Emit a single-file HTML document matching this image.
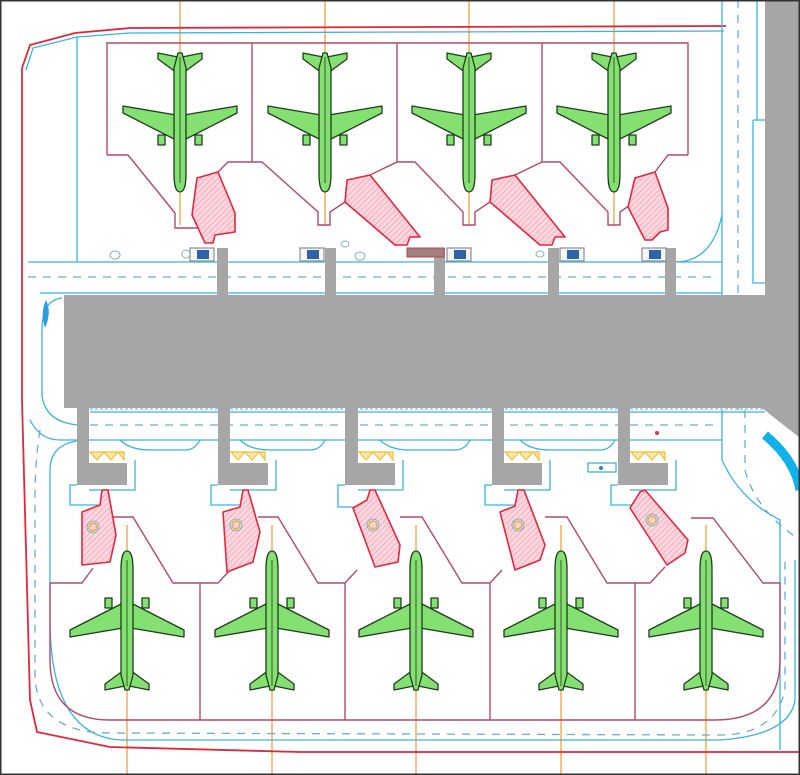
<!DOCTYPE html>
<html><head><meta charset="utf-8"><style>html,body{margin:0;padding:0;background:#fff}svg{display:block}</style></head>
<body>
<svg width="800" height="775" viewBox="0 0 800 775" xmlns="http://www.w3.org/2000/svg">
<defs>
<pattern id="h" width="4" height="4" patternUnits="userSpaceOnUse" patternTransform="rotate(45)">
<rect width="4" height="4" fill="#fbd6de"/><line x1="0" y1="0" x2="0" y2="4" stroke="#ee8fa0" stroke-width="1"/>
</pattern>
<g id="pl" stroke="#1d3d1d" stroke-width="1.3" fill="#84e070" stroke-linejoin="round">
<path d="M-4,-17 L-57,10 L-57,17 L-4,8 Z M4,-17 L57,10 L57,17 L4,8 Z"/>
<path d="M-3,50 L-22,64 L-22,70 L-2,66 Z M3,50 L22,64 L22,70 L2,66 Z"/>
<rect x="-22" y="-22" width="7" height="10"/><rect x="15" y="-22" width="7" height="10"/>
<path d="M0,-69 C5,-69 6,-60 6,-50 L6,55 L2,70 L-2,70 L-6,55 L-6,-50 C-6,-60 -5,-69 0,-69 Z"/>
<line x1="0" y1="-60" x2="0" y2="66" stroke-width="0.8"/>
</g>
<g id="veh"><rect x="0" y="0" width="24" height="13" fill="#f4f6f8" stroke="#8a8f96" stroke-width="1.2"/><rect x="7" y="2" width="12" height="9" fill="#2d63a8"/></g>
</defs>
<rect width="800" height="775" fill="#fff"/>

<!-- orange centrelines -->
<g stroke="#f0a040" stroke-width="1.3">
<line x1="180" y1="0" x2="180" y2="225"/><line x1="325" y1="0" x2="325" y2="225"/><line x1="469" y1="0" x2="469" y2="225"/><line x1="614" y1="0" x2="614" y2="225"/>
<line x1="127" y1="525" x2="127" y2="775"/><line x1="272" y1="525" x2="272" y2="775"/><line x1="416" y1="525" x2="416" y2="775"/><line x1="561" y1="525" x2="561" y2="775"/><line x1="706" y1="525" x2="706" y2="775"/>
</g>

<!-- outer red boundary -->
<g fill="none" stroke="#e0283c" stroke-width="1.8">
<path d="M726,26 L130,28 L75,33 L30,45 L22,68 L22,400 L30,700 L37,732 L110,747 L300,752 L800,752"/>
</g>
<!-- cyan -->
<g fill="none" stroke="#3bb4dc" stroke-width="1.3">
<path d="M26,70 L33,48 L77,37 L130,33 L724,31"/>
<line x1="77" y1="37" x2="77" y2="262"/>
<line x1="28" y1="262" x2="722" y2="262"/>
<line x1="40" y1="293" x2="722" y2="293"/>
<path d="M722,0 L722,295"/><path d="M757,0 L757,120"/>
<path d="M753,120 L765,120 M753,120 L753,283 L765,283"/>
<path d="M675,262 Q712,262 722,215"/>
<path d="M62,298 Q42,300 42,330 L42,395 Q45,422 78,425"/>
<line x1="90" y1="412" x2="765" y2="412"/>
<path d="M30,420 Q40,440 60,440 L722,440"/>
<path d="M722,410 L722,460 Q740,500 780,520 L780,750"/>
<path d="M90,440 Q50,440 50,470 L50,620 Q50,735 120,740 L720,740 Q790,735 795,700 L795,560"/>
<path d="M120,440 Q130,450 150,450 L185,450 Q195,450 200,440 M240,440 Q250,450 270,450 L310,450 Q320,450 325,440 M380,440 Q390,450 410,450 L455,450 Q465,450 470,440 M520,440 Q530,450 550,450 L600,450 Q610,450 615,440"/>
</g>
<g fill="none" stroke="#6aaed0" stroke-width="1.3" stroke-dasharray="8,7">
<line x1="28" y1="277" x2="715" y2="277"/>
<line x1="90" y1="425" x2="715" y2="425"/>
<path d="M738,0 L738,410"/>
<path d="M745,410 L745,470 Q755,510 800,540"/>
<path d="M40,430 Q35,460 35,500 L35,680 Q40,733 110,733 L720,735 Q775,735 785,690 L785,560"/>
</g>
<g stroke="#5aa8d8" stroke-width="1" stroke-dasharray="3,2"><line x1="90" y1="296" x2="765" y2="296"/><line x1="90" y1="409" x2="765" y2="409"/></g>

<!-- terminal -->
<g fill="#a6a6a6">
<rect x="64" y="295" width="701" height="113"/>
<polygon points="765,0 800,0 800,438 762,408 765,408"/>
<rect x="217" y="248" width="11" height="48"/><rect x="325" y="248" width="11" height="48"/><rect x="434" y="248" width="11" height="48"/><rect x="548" y="248" width="11" height="48"/><rect x="665" y="248" width="11" height="48"/>
</g>
<path d="M765,435 Q795,460 800,490" fill="none" stroke="#10b0ea" stroke-width="9"/>
<path d="M46,300 Q52,312 45,328 Q40,312 46,300 Z" fill="#2a9ee0"/>
<rect x="407" y="248" width="37" height="9" fill="#a08080" stroke="#c04050" stroke-width="1"/>

<!-- vehicles -->
<use href="#veh" x="190" y="248"/><use href="#veh" x="300" y="248"/><use href="#veh" x="447" y="248"/><use href="#veh" x="560" y="248"/><use href="#veh" x="642" y="248"/>
<g fill="none" stroke="#8ab" stroke-width="1"><ellipse cx="186" cy="254" rx="4" ry="4"/><ellipse cx="115" cy="255" rx="5" ry="4"/><ellipse cx="345" cy="244" rx="4" ry="3"/><ellipse cx="360" cy="256" rx="5" ry="4"/><ellipse cx="540" cy="254" rx="4" ry="3"/></g>

<!-- top stands -->
<g fill="none" stroke="#b34a6c" stroke-width="1.4">
<path d="M107,155 L107,43 L688,43 L688,155"/>
<line x1="252" y1="43" x2="252" y2="162"/><line x1="397" y1="43" x2="397" y2="162"/><line x1="542" y1="43" x2="542" y2="162"/>
<path d="M107,155 L128,155 L175,213 L175,228 L200,228"/>
<path d="M252,162 L228,162 L218,172"/>
<path d="M252,162 L262,162 L318,212 L318,225 L330,225 L330,212 L345,202"/>
<path d="M370,175 L397,162 L415,162 L463,212 L463,225 L475,225 L475,212 L490,202"/>
<path d="M515,175 L542,162 L560,162 L608,212 L608,225 L620,225 L620,212 L630,205"/>
<path d="M655,172 L668,155 L688,155"/>
</g>
<g fill="url(#h)" stroke="#e2283e" stroke-width="1.6" stroke-linejoin="round">
<polygon points="197,178 218,172 235,213 235,232 215,235 213,243 205,243 192,215"/>
<polygon points="347,180 370,175 420,237 410,237 407,245 395,245 345,202"/>
<polygon points="492,180 515,175 565,237 555,237 552,245 540,245 490,202"/>
<polygon points="635,178 655,172 668,208 668,230 660,232 652,240 645,240 628,207"/>
</g>

<!-- bottom bridges -->
<g fill="#a6a6a6">
<rect x="77" y="408" width="12" height="77"/><rect x="77" y="463" width="50" height="22"/>
<rect x="218" y="408" width="12" height="77"/><rect x="218" y="463" width="50" height="22"/>
<rect x="345" y="408" width="13" height="77"/><rect x="345" y="463" width="50" height="22"/>
<rect x="492" y="408" width="12" height="77"/><rect x="492" y="463" width="50" height="22"/>
<rect x="618" y="408" width="12" height="77"/><rect x="618" y="463" width="50" height="22"/>
</g>
<g fill="#fbe8b0" stroke="#f0c030" stroke-width="1.2">
<path d="M90,452 L97,460 L104,452 L111,460 L118,452 L124,460 L124,452 Z"/>
<path d="M231,452 L238,460 L245,452 L252,460 L259,452 L265,460 L265,452 Z"/>
<path d="M359,452 L366,460 L373,452 L380,460 L387,452 L393,460 L393,452 Z"/>
<path d="M505,452 L512,460 L519,452 L526,460 L533,452 L539,460 L539,452 Z"/>
<path d="M631,452 L638,460 L645,452 L652,460 L659,452 L665,460 L665,452 Z"/>
</g>
<g fill="none" stroke="#3bb4dc" stroke-width="1.3">
<path d="M77,485 L70,485 L70,505 L100,505 M135,460 L135,490 L89,490"/>
<path d="M218,485 L211,485 L211,505 L241,505 M276,460 L276,490 L230,490"/>
<path d="M345,485 L338,485 L338,507 L368,507 M403,460 L403,490 L358,490"/>
<path d="M492,485 L485,485 L485,505 L515,505 M550,460 L550,490 L504,490"/>
<path d="M618,485 L611,485 L611,505 L641,505 M676,460 L676,490 L630,490"/>
<rect x="588" y="463" width="28" height="9"/>
</g>
<circle cx="601" cy="468" r="2" fill="#2a7fd0"/><circle cx="657" cy="433" r="2" fill="#d04040"/>

<!-- bottom stands -->
<g fill="none" stroke="#b34a6c" stroke-width="1.4">
<path d="M50,583 L50,660 Q50,720 110,720 L715,720 Q780,720 780,660 L780,583 L763,583 L713,518 L691,518"/>
<line x1="200" y1="583" x2="200" y2="720"/><line x1="345" y1="583" x2="345" y2="720"/><line x1="490" y1="583" x2="490" y2="720"/><line x1="635" y1="583" x2="635" y2="720"/>
<path d="M50,583 L82,583 L93,568"/>
<path d="M112,517 L133,517 L173,583 L218,583 L230,570"/>
<path d="M258,517 L278,517 L318,583 L345,583 L357,570"/>
<path d="M400,517 L422,517 L462,583 L490,583 L502,570"/>
<path d="M545,517 L567,517 L607,583 L650,583 L665,567"/>
</g>
<g fill="url(#h)" stroke="#e2283e" stroke-width="1.6" stroke-linejoin="round">
<polygon points="82,512 100,505 102,490 108,490 116,535 110,562 82,565"/>
<polygon points="223,512 240,507 243,490 248,490 260,532 253,562 227,572"/>
<polygon points="353,508 367,500 370,490 375,490 400,545 398,562 375,567"/>
<polygon points="500,512 515,506 518,490 524,490 545,545 540,560 515,570"/>
<polygon points="630,508 640,492 645,490 688,540 685,553 667,565"/>
</g>
<g fill="none" stroke="#e0b020" stroke-width="1.2"><circle cx="93" cy="527" r="4"/><circle cx="236" cy="525" r="4"/><circle cx="373" cy="525" r="4"/><circle cx="518" cy="525" r="4"/><circle cx="652" cy="520" r="4"/></g>
<g fill="none" stroke="#4ab0e0" stroke-width="0.8"><circle cx="93" cy="527" r="6"/><circle cx="236" cy="525" r="6"/><circle cx="373" cy="525" r="6"/><circle cx="518" cy="525" r="6"/><circle cx="652" cy="520" r="6"/></g>

<!-- planes -->
<use href="#pl" transform="translate(180,123) scale(1,-1)"/>
<use href="#pl" transform="translate(325,123) scale(1,-1)"/>
<use href="#pl" transform="translate(469,123) scale(1,-1)"/>
<use href="#pl" transform="translate(614,123) scale(1,-1)"/>
<use href="#pl" transform="translate(127,620)"/>
<use href="#pl" transform="translate(272,620)"/>
<use href="#pl" transform="translate(416,620)"/>
<use href="#pl" transform="translate(561,620)"/>
<use href="#pl" transform="translate(706,620)"/>

<rect x="0.75" y="0.75" width="798.5" height="773.5" fill="none" stroke="#333" stroke-width="1.5"/>
</svg>
</body></html>
